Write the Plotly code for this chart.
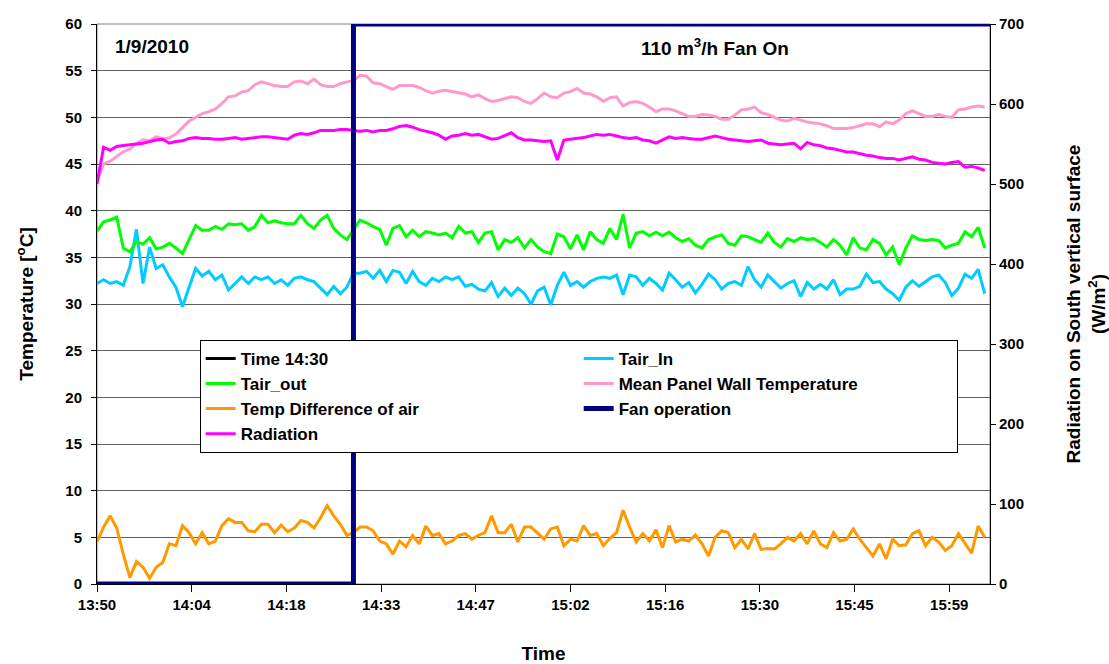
import plotly.graph_objects as go

# ---- data (minutes after 13:50, one sample per minute) ----
minutes = list(range(136))

tair_out = [37.8, 38.8, 39.0, 39.3, 36.0, 35.6, 36.7, 36.4, 37.1, 35.9,
            36.1, 36.5, 36.0, 35.4, 36.9, 38.4, 37.9, 37.9, 38.3, 38.0,
            38.6, 38.5, 38.6, 37.9, 38.3, 39.5, 38.7, 38.9, 38.7, 38.6,
            38.6, 39.5, 38.6, 38.1, 39.0, 39.5, 38.1, 37.4, 36.9, 37.9,
            39.0, 38.7, 38.3, 38.0, 36.3, 38.1, 38.4, 37.2, 37.9, 37.2,
            37.75, 37.6, 37.4, 37.6, 37.1, 38.3, 37.6, 37.75, 36.6, 37.6,
            37.75, 35.8, 36.9, 36.6, 37.1, 36.0, 36.9, 36.1, 35.6, 35.4,
            37.5, 37.2, 35.9, 37.4, 35.8, 37.75, 36.9, 36.5, 38.1, 36.9,
            39.6, 36.0, 37.6, 37.75, 37.3, 37.7, 37.3, 37.7, 37.1, 36.7,
            37.0, 36.3, 36.0, 36.9, 37.2, 37.4, 36.5, 36.3, 37.3, 37.2,
            36.9, 36.6, 37.6, 36.6, 36.1, 37.0, 36.7, 37.1, 36.9, 37.0,
            36.6, 36.1, 36.9, 36.3, 35.25, 37.1, 36.0, 35.8, 36.9, 36.5,
            35.25, 36.1, 34.2, 36.0, 37.3, 36.9, 36.8, 36.9, 36.8, 36.0,
            36.3, 36.5, 37.75, 37.2, 38.2, 36.0]

tair_in = [32.2, 32.6, 32.2, 32.4, 32.0, 34.0, 38.0, 32.2, 36.1, 33.8,
           34.2, 32.9, 31.8, 29.7, 31.8, 33.8, 33.0, 33.5, 32.6, 33.1,
           31.5, 32.2, 32.9, 32.2, 32.9, 32.6, 32.9, 32.2, 32.6, 32.0,
           32.75, 32.9, 32.6, 32.4, 31.7, 31.0, 31.9, 31.1, 31.8, 33.3,
           33.3, 33.5, 32.75, 33.6, 32.4, 33.6, 33.4, 32.2, 33.5, 32.4,
           32.0, 32.75, 32.4, 32.9, 32.6, 32.9, 31.9, 32.1, 31.6, 31.4,
           32.3, 30.8, 31.7, 30.9, 31.7, 31.1, 30.0, 31.4, 31.8, 29.9,
           32.0, 33.4, 32.0, 32.4, 31.8, 32.4, 32.75, 32.9, 32.75, 33.1,
           31.0, 33.1, 32.9, 32.0, 32.75, 32.2, 31.5, 33.3, 32.6, 31.8,
           32.3, 31.2, 32.1, 33.2, 32.6, 31.6, 32.2, 32.4, 32.0, 34.0,
           32.6, 31.8, 33.1, 32.4, 31.7, 32.2, 32.5, 30.8, 32.3, 31.6,
           32.1, 31.6, 32.6, 31.0, 31.6, 31.6, 31.9, 33.2, 32.3, 32.4,
           31.6, 31.1, 30.4, 31.8, 32.5, 31.9, 32.4, 32.9, 33.1, 32.3,
           30.9, 31.7, 33.2, 32.75, 33.7, 31.1]

temp_diff = [4.5, 6.1, 7.3, 6.0, 3.2, 0.7, 2.4, 1.8, 0.6, 1.8,
             2.3, 4.3, 4.1, 6.25, 5.5, 4.3, 5.5, 4.3, 4.6, 6.25,
             7.0, 6.6, 6.6, 5.7, 5.6, 6.4, 6.4, 5.5, 6.3, 5.6,
             6.0, 6.8, 6.6, 6.0, 7.1, 8.4, 7.3, 6.4, 5.2, 5.5,
             6.1, 6.1, 5.7, 4.6, 4.3, 3.2, 4.6, 4.0, 5.2, 4.3,
             6.2, 5.2, 5.4, 4.3, 4.6, 5.2, 5.4, 4.8, 5.2, 5.5,
             7.3, 5.5, 5.5, 6.4, 4.5, 6.1, 6.1, 5.4, 4.8, 5.9,
             6.1, 4.1, 4.8, 4.6, 6.25, 5.2, 5.4, 4.1, 4.9, 5.5,
             7.9, 6.1, 4.5, 5.4, 4.6, 5.8, 3.9, 6.25, 4.5, 4.8,
             4.6, 5.25, 4.3, 3.0, 5.0, 5.7, 5.5, 3.9, 4.8, 3.75,
             5.4, 3.7, 3.8, 3.75, 4.3, 5.0, 4.6, 5.4, 4.3, 5.7,
             4.3, 3.9, 5.5, 4.6, 4.8, 5.9, 4.8, 3.9, 3.0, 4.3,
             2.7, 4.8, 4.1, 4.2, 5.4, 5.7, 4.1, 5.0, 4.5, 3.6,
             4.1, 5.4, 4.3, 3.3, 6.2, 5.0]

panel_wall = [43.2, 45.0, 45.3, 45.8, 46.3, 46.6, 47.2, 47.6, 47.5, 47.9,
              47.7, 47.8, 48.2, 48.9, 49.6, 50.0, 50.4, 50.6, 50.9, 51.5,
              52.2, 52.3, 52.7, 52.85, 53.5, 53.8, 53.6, 53.4, 53.3, 53.3,
              53.8, 53.9, 53.6, 54.1, 53.5, 53.3, 53.3, 53.6, 53.8, 53.9,
              54.5, 54.4, 53.7, 53.6, 53.3, 53.0, 53.4, 53.4, 53.4, 53.2,
              52.85, 52.6, 52.8, 52.9, 52.75, 52.65, 52.5, 52.2, 52.4, 52.0,
              51.7, 51.8, 52.0, 52.2, 52.1, 51.7, 51.5, 52.0, 52.6, 52.2,
              52.1, 52.6, 52.75, 53.1, 52.6, 52.5, 52.2, 51.7, 52.1, 52.2,
              51.2, 51.6, 51.7, 51.5, 51.1, 50.6, 50.9, 50.9, 50.7, 50.4,
              50.1, 50.1, 50.3, 50.25, 50.1, 49.8, 49.8, 50.25, 50.8, 50.9,
              51.1, 50.5, 50.3, 50.0, 49.7, 49.6, 49.9, 49.7, 49.5, 49.4,
              49.3, 49.1, 48.8, 48.8, 48.8, 48.9, 49.1, 49.3, 49.3, 49.0,
              49.5, 49.3, 49.7, 50.4, 50.7, 50.4, 50.1, 50.1, 50.3, 50.1,
              50.0, 50.8, 50.9, 51.1, 51.2, 51.1]

radiation = [500, 546, 542, 547, 548, 549, 550, 551, 553, 555,
             556, 551, 553, 554, 557, 558, 557, 557, 556, 556,
             557, 558, 556, 557, 558, 559, 559, 558, 557, 556,
             561, 563, 562, 564, 567, 567, 567, 568, 568, 567,
             566, 567, 565, 567, 567, 569, 572, 573, 571, 568,
             566, 564, 561, 556, 560, 561, 563, 561, 562, 559,
             556, 557, 561, 564, 558, 555, 555, 554, 553, 554,
             530, 555, 556, 557, 558, 560, 562, 561, 562, 560,
             558, 557, 558, 555, 554, 551, 555, 559, 557, 558,
             557, 556, 556, 558, 560, 558, 556, 555, 554, 553,
             554, 555, 551, 550, 549, 550, 551, 544, 552, 549,
             548, 545, 544, 542, 540, 540, 538, 536, 535, 533,
             532, 532, 530, 532, 534, 531, 530, 527, 526, 525,
             527, 528, 521, 522, 520, 517]

fan_minutes = [0, 39, 39, 135.8]
fan_state = [0, 0, 700, 700]
time_1430_minutes = [39, 39]
time_1430_values = [0, 60]

tick_minutes = [0, 14.4, 28.8, 43.2, 57.6, 72.0, 86.4, 100.8, 115.2, 129.6]
tick_labels = ["13:50", "14:04", "14:18", "14:33", "14:47",
               "15:02", "15:16", "15:30", "15:45", "15:59"]

FONT = "Liberation Sans, Arial, sans-serif"


def b(t):
    return "<b>" + t + "</b>"


fig = go.Figure()

fig.add_trace(go.Scatter(x=time_1430_minutes, y=time_1430_values, mode="lines",
                         name=b("Time 14:30"), line=dict(color="#000000", width=3),
                         legendrank=1))
fig.add_trace(go.Scatter(x=minutes, y=tair_in, mode="lines", name=b("Tair_In"),
                         line=dict(color="#00CCFF", width=3), legendrank=2))
fig.add_trace(go.Scatter(x=minutes, y=tair_out, mode="lines", name=b("Tair_out"),
                         line=dict(color="#00FF00", width=3), legendrank=3))
fig.add_trace(go.Scatter(x=minutes, y=panel_wall, mode="lines",
                         name=b("Mean Panel Wall Temperature"),
                         line=dict(color="#FF99CC", width=3), legendrank=4))
fig.add_trace(go.Scatter(x=minutes, y=temp_diff, mode="lines",
                         name=b("Temp Difference of air"),
                         line=dict(color="#FF9900", width=3), legendrank=5))
fig.add_trace(go.Scatter(x=minutes, y=radiation, mode="lines", name=b("Radiation"),
                         yaxis="y2", line=dict(color="#FF00FF", width=3),
                         legendrank=7))
fig.add_trace(go.Scatter(x=fan_minutes, y=fan_state, mode="lines",
                         name=b("Fan operation"), yaxis="y2",
                         line=dict(color="#000080", width=5), legendrank=6))

tickfont = dict(family=FONT, size=15, color="#000000")
titlefont = dict(family=FONT, size=19, color="#000000")

fig.update_layout(
    width=1109, height=664,
    margin=dict(l=97, r=119, t=24, b=80, autoexpand=False),
    paper_bgcolor="white", plot_bgcolor="white",
    font=dict(family=FONT, color="#000000"),
    showlegend=True,
    xaxis=dict(range=[0, 135.8], tickmode="array", tickvals=tick_minutes,
               ticktext=[b(t) for t in tick_labels], tickfont=tickfont,
               ticks="outside", ticklen=7, tickcolor="#000000", showgrid=False,
               zeroline=False, showline=True, linecolor="#000000", linewidth=1,
               automargin=False,
               title=dict(text=b("Time"), font=titlefont, standoff=34)),
    yaxis=dict(range=[0, 60], dtick=5, tickfont=tickfont, tickprefix="<b>",
               ticksuffix="</b>", ticks="outside", ticklen=5, tickcolor="#000000",
               ticklabelstandoff=6, showgrid=True, gridcolor="#606060",
               gridwidth=1, zeroline=False, showline=True, linecolor="#000000",
               automargin=False,
               title=dict(text=b("Temperature [<sup>o</sup>C]"), font=titlefont,
                          standoff=26)),
    yaxis2=dict(range=[0, 700], dtick=100, overlaying="y", side="right",
                tickfont=tickfont, tickprefix="<b>", ticksuffix="</b>",
                ticks="outside", ticklen=5, tickcolor="#000000",
                showgrid=False, zeroline=False, showline=True, linecolor="#000000",
                automargin=False,
                title=dict(text=b("Radiation on South vertical surface<br>(W/m<sup>2</sup>)"),
                           font=titlefont, standoff=47)),
    legend=dict(orientation="h", x=0.115, y=0.436, xanchor="left", yanchor="top",
                bgcolor="white", bordercolor="#000000", borderwidth=1,
                font=dict(family=FONT, size=17, color="#000000"),
                entrywidth=333, entrywidthmode="pixels", itemwidth=30,
                tracegroupgap=0),
    annotations=[
        dict(text=b("1/9/2010"), x=0.018, y=0.959, xref="paper", yref="paper",
             xanchor="left", yanchor="middle", showarrow=False,
             font=dict(family=FONT, size=19)),
        dict(text=b("110 m<sup>3</sup>/h Fan On"), x=0.692, y=0.959, xref="paper",
             yref="paper", xanchor="center", yanchor="middle", showarrow=False,
             font=dict(family=FONT, size=19)),
    ],
    shapes=[dict(type="rect", xref="paper", yref="paper", x0=0, x1=1, y0=0, y1=1,
                 line=dict(color="#808080", width=1), layer="below")],
)

fig.write_html("out.html")
